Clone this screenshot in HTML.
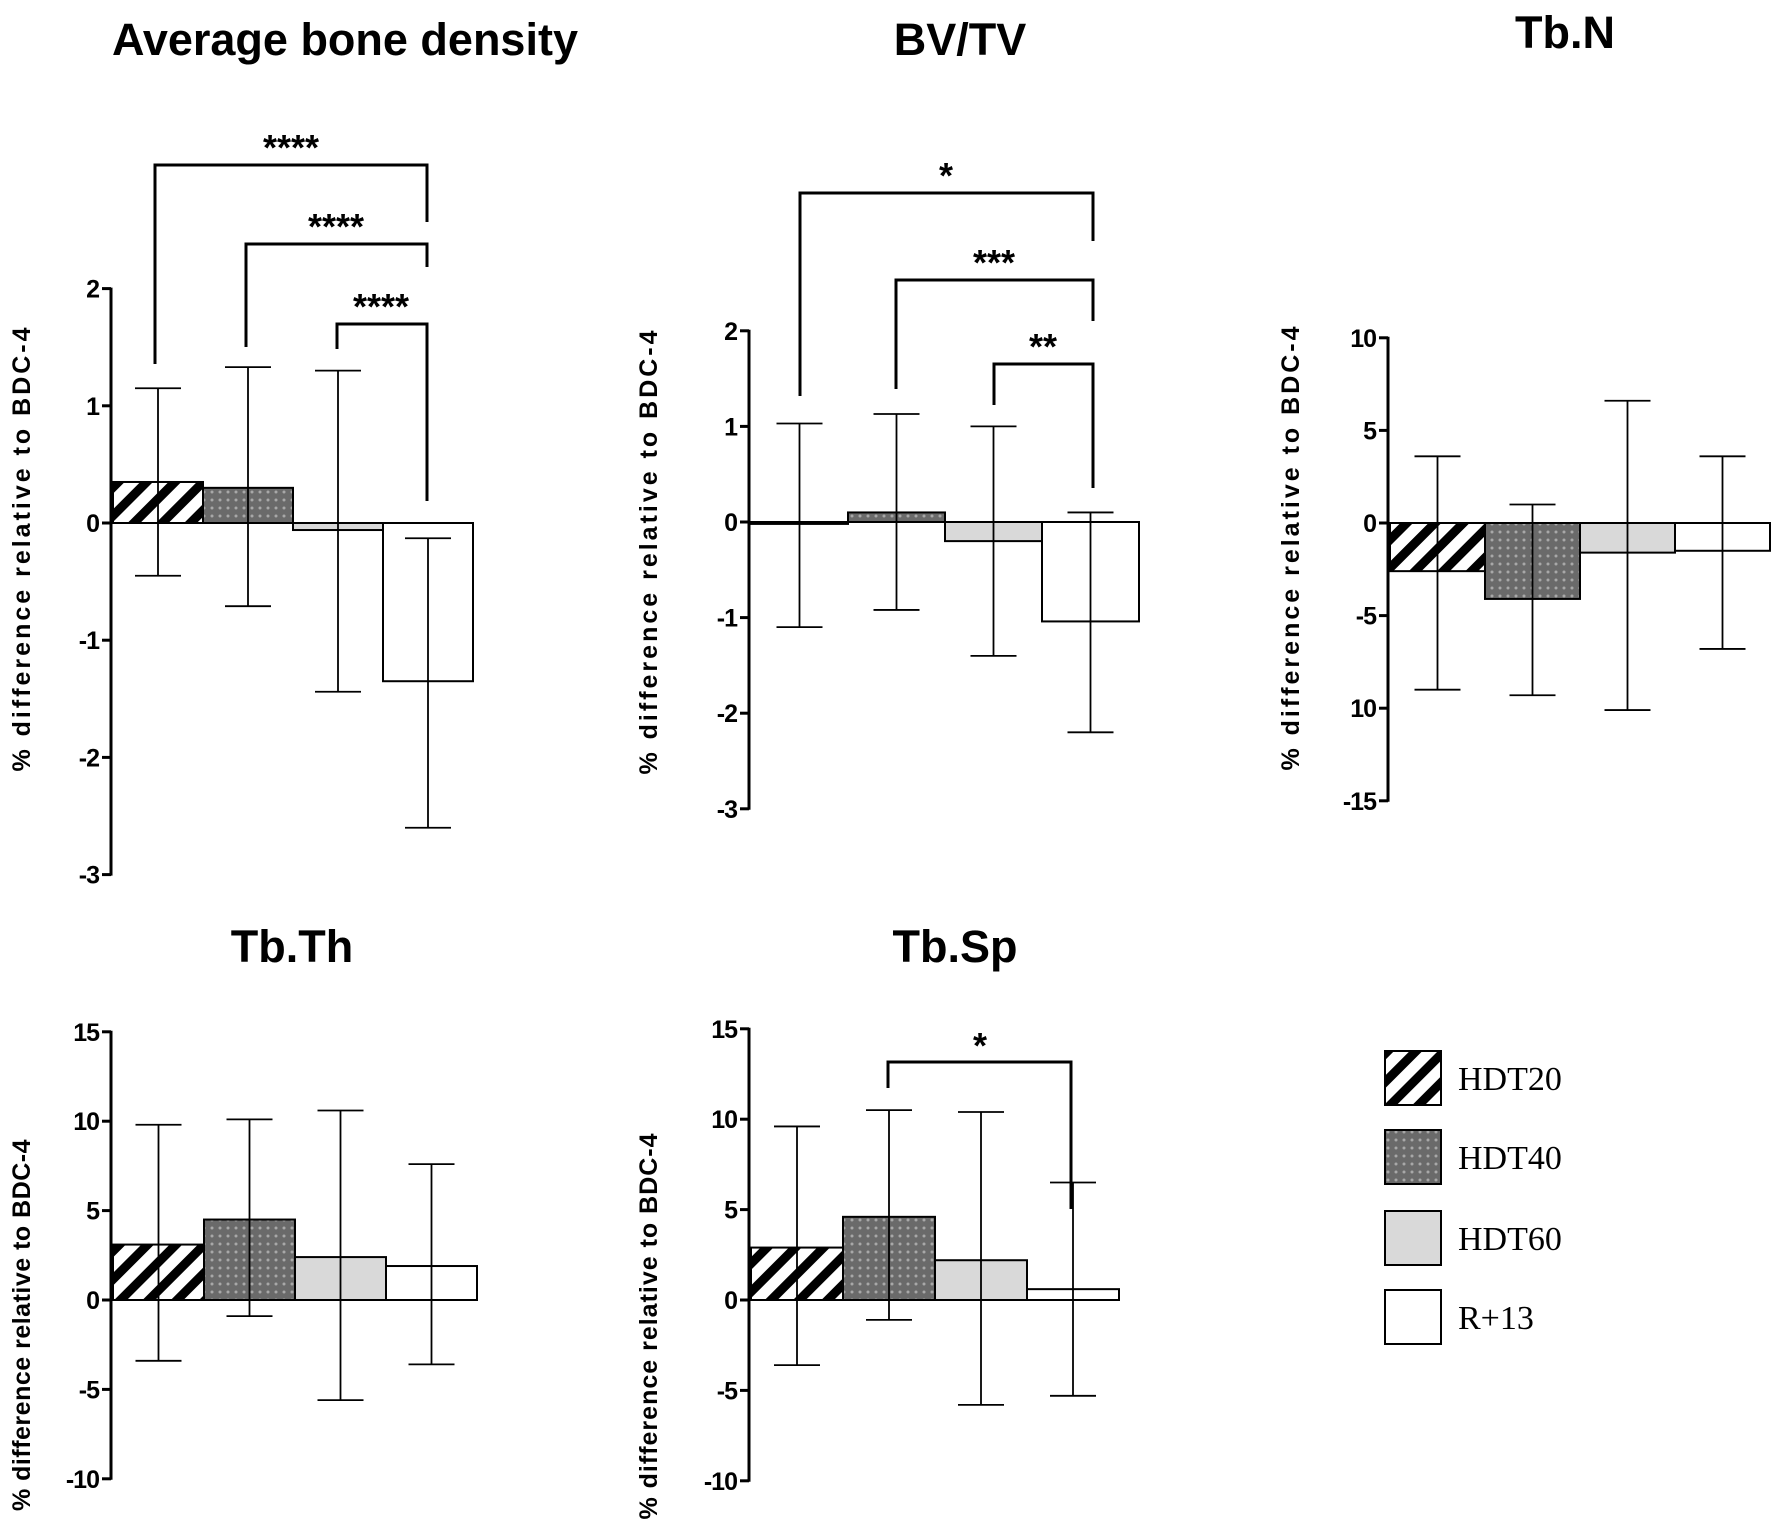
<!DOCTYPE html>
<html><head><meta charset="utf-8">
<style>
html,body{margin:0;padding:0;background:#fff;}
svg{display:block;}
</style></head>
<body>
<svg id="c" width="1772" height="1519" viewBox="0 0 1772 1519" xmlns="http://www.w3.org/2000/svg">
<defs>
<pattern id="hatch" patternUnits="userSpaceOnUse" width="20" height="20" patternTransform="rotate(45)">
<rect width="20" height="20" fill="#fff"/><rect width="9" height="20" fill="#000"/>
</pattern>
<pattern id="dots" patternUnits="userSpaceOnUse" width="8" height="8">
<rect width="8" height="8" fill="#6a6a6a"/><circle cx="4" cy="4" r="1.5" fill="#a8a8a8"/>
</pattern>
</defs>
</svg>
<script>
const groups = ['HDT20','HDT40','HDT60','R+13'];
const fills = ['url(#hatch)','url(#dots)','#d9d9d9','#ffffff'];
// Average bone density
const abdMean = [0.35, 0.3, -0.06, -1.35];
const abdHi = [1.15, 1.33, 1.3, -0.13];
const abdLo = [-0.45, -0.71, -1.44, -2.6];
const abdTicks = ['2','1','0','-1','-2','-3'];
const abdTickVals = [2,1,0,-1,-2,-3];
// BV/TV
const bvMean = [-0.02, 0.1, -0.2, -1.04];
const bvHi = [1.03, 1.13, 1.0, 0.1];
const bvLo = [-1.1, -0.92, -1.4, -2.2];
const bvTicks = ['2','1','0','-1','-2','-3'];
const bvTickVals = [2,1,0,-1,-2,-3];
// Tb.N
const tbnMean = [-2.6, -4.1, -1.6, -1.5];
const tbnHi = [3.6, 1.0, 6.6, 3.6];
const tbnLo = [-9.0, -9.3, -10.1, -6.8];
const tbnTicks = ['10','5','0','-5','10','-15'];
const tbnTickVals = [10,5,0,-5,-10,-15];
// Tb.Th
const tbthMean = [3.1, 4.5, 2.4, 1.9];
const tbthHi = [9.8, 10.1, 10.6, 7.6];
const tbthLo = [-3.4, -0.9, -5.6, -3.6];
const tbthTicks = ['15','10','5','0','-5','-10'];
const tbthTickVals = [15,10,5,0,-5,-10];
// Tb.Sp
const tbspMean = [2.9, 4.6, 2.2, 0.6];
const tbspHi = [9.6, 10.5, 10.4, 6.5];
const tbspLo = [-3.6, -1.1, -5.8, -5.3];
const tbspTicks = ['15','10','5','0','-5','-10'];
const tbspTickVals = [15,10,5,0,-5,-10];

const svg = document.getElementById('c');
const NS = 'http://www.w3.org/2000/svg';
function mk(tag, attrs, parent){
  const e = document.createElementNS(NS, tag);
  for (const k in attrs) e.setAttribute(k, attrs[k]);
  (parent||svg).appendChild(e);
  return e;
}
function txt(s, attrs, parent){ const t = mk('text', attrs, parent); t.textContent = s; return t; }

function panel(o){
  const g = mk('g', {});
  
  
  const y = v => o.y0 - v * o.unit;
  const ymax = Math.max(...o.tickVals), ymin = Math.min(...o.tickVals);
  const t = txt(o.title, {x:o.titleX, y:o.titleY, 'text-anchor':'middle', 'font-family':'Liberation Sans, sans-serif', 'font-size':45, 'font-weight':'bold'}, g);
  
  
  const yl = txt(o.ylabel, {x:0, y:0, transform:`translate(${o.ylx},${o.yly}) rotate(-90)`, 'text-anchor':'middle', 'font-family':'Liberation Sans, sans-serif', 'font-size':25, 'font-weight':'bold', 'letter-spacing':o.ls}, g);
  
  
  const ax = mk('line', {x1:o.ax, x2:o.ax, y1:y(ymax)-1, y2:y(ymin)+1, stroke:'#000', 'stroke-width':3}, g);
  
  
  o.tickVals.forEach((v,i)=>{
    mk('line', {x1:o.ax-9, x2:o.ax, y1:y(v), y2:y(v), stroke:'#000', 'stroke-width':3}, g);
    const tl = txt(o.ticks[i], {x:o.ax-12, y:y(v)+9, 'text-anchor':'end', 'font-family':'Liberation Sans, sans-serif', 'font-size':25, 'font-weight':'bold', 'letter-spacing':'-1'}, g);
    
    
  });
  o.mean.forEach((m,i)=>{
    const x = o.bx + i*o.bw;
    const top = Math.min(y(m), y(0)), h = Math.abs(y(m)-y(0));
    const r = mk('rect', {x:x, y:top, width:o.bw, height:Math.max(h,1), fill:fills[i], stroke:'#000', 'stroke-width':2}, g);
    
    
    const cx = x + o.bw/2;
    const eb = mk('g', {stroke:'#000', 'stroke-width':1.8}, g);
    
    
    mk('line', {x1:cx, x2:cx, y1:y(o.hi[i]), y2:y(o.lo[i])}, eb);
    mk('line', {x1:cx-23, x2:cx+23, y1:y(o.hi[i]), y2:y(o.hi[i])}, eb);
    mk('line', {x1:cx-23, x2:cx+23, y1:y(o.lo[i]), y2:y(o.lo[i])}, eb);
  });
  (o.brackets||[]).forEach(b=>{
    const bg = mk('g', {}, g);
    
    
    mk('polyline', {points:`${b.x1},${b.l1} ${b.x1},${b.y} ${b.x2},${b.y} ${b.x2},${b.l2}`, fill:'none', stroke:'#000', 'stroke-width':3}, bg);
    txt(b.s, {x:b.sx, y:b.sy, 'text-anchor':'middle', 'font-family':'Liberation Sans, sans-serif', 'font-size':36, 'font-weight':'bold'}, bg);
  });
}
const yl = '% difference relative to BDC-4';
panel({name:'average-bone-density', title:'Average bone density', titleX:345, titleY:55, ylabel:yl, ylx:30, yly:548, ls:3,
  ax:111, y0:523, unit:117.2, bx:113, bw:90, mean:abdMean, hi:abdHi, lo:abdLo, ticks:abdTicks, tickVals:abdTickVals,
  brackets:[{x1:155,x2:427,y:165,l1:364,l2:222,s:'****',sx:291,sy:160},
            {x1:246,x2:427,y:244,l1:347,l2:267,s:'****',sx:336,sy:239},
            {x1:337,x2:427,y:324,l1:349,l2:501,s:'****',sx:381,sy:319}]});
panel({name:'bv-tv', title:'BV/TV', titleX:960, titleY:55, ylabel:yl, ylx:657, yly:551, ls:3,
  ax:749, y0:522, unit:95.6, bx:751, bw:97, mean:bvMean, hi:bvHi, lo:bvLo, ticks:bvTicks, tickVals:bvTickVals,
  brackets:[{x1:800,x2:1093,y:193,l1:396,l2:241,s:'*',sx:946,sy:188},
            {x1:896,x2:1093,y:280,l1:389,l2:321,s:'***',sx:994,sy:275},
            {x1:994,x2:1093,y:364,l1:405,l2:488,s:'**',sx:1043,sy:359}]});
panel({name:'tb-n', title:'Tb.N', titleX:1565, titleY:48, ylabel:yl, ylx:1299, yly:547, ls:3,
  ax:1388, y0:523, unit:18.52, bx:1390, bw:95, mean:tbnMean, hi:tbnHi, lo:tbnLo, ticks:tbnTicks, tickVals:tbnTickVals});
panel({name:'tb-th', title:'Tb.Th', titleX:292, titleY:962, ylabel:yl, ylx:30, yly:1325, ls:0.5,
  ax:111, y0:1300, unit:17.88, bx:113, bw:91, mean:tbthMean, hi:tbthHi, lo:tbthLo, ticks:tbthTicks, tickVals:tbthTickVals});
panel({name:'tb-sp', title:'Tb.Sp', titleX:955, titleY:962, ylabel:'% difference relative to  BDC-4', ylx:657, yly:1326, ls:1,
  ax:749, y0:1300, unit:18.08, bx:751, bw:92, mean:tbspMean, hi:tbspHi, lo:tbspLo, ticks:tbspTicks, tickVals:tbspTickVals,
  brackets:[{x1:888,x2:1071,y:1062,l1:1088,l2:1209,s:'*',sx:980,sy:1058}]});

// legend
const lg = mk('g', {});


const legY = [1051, 1130, 1211, 1290];
groups.forEach((gname,i)=>{
  const e = mk('g', {}, lg);
  
  
  mk('rect', {x:1385, y:legY[i], width:56, height:54, fill:fills[i], stroke:'#000', 'stroke-width':2}, e);
  txt(gname, {x:1458, y:legY[i]+39, 'font-family':'Liberation Serif, serif', 'font-size':34}, e);
});
</script>
</body></html>
